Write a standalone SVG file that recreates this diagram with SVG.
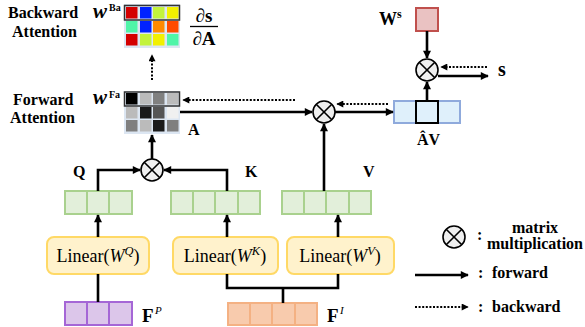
<svg xmlns="http://www.w3.org/2000/svg" width="585" height="327" viewBox="0 0 585 327">
<defs>
<style>
text{font-family:"Liberation Serif","Times New Roman",serif;fill:#000}
.b{font-weight:bold}
.lbl{font-weight:bold;font-size:16px}
.lin{font-size:18px}
.ln{fill:none;stroke:#000;stroke-width:2.6}
.dt{fill:none;stroke:#000;stroke-width:2;stroke-dasharray:2 1.6}
.gv{fill:#e2efda;stroke:#a9d18e;stroke-width:2}
.pv{fill:#dcc6ea;stroke:#a566d6;stroke-width:2}
.ov{fill:#f8cbad;stroke:#f4b183;stroke-width:2}
.bv{fill:#dff0fb;stroke:#8faadc;stroke-width:2}
.lb{fill:#fff2cc;stroke:#ffd966;stroke-width:2}
.op{fill:#efefef;stroke:#000;stroke-width:1.6}
.opx{stroke:#000;stroke-width:1.6}
</style>
<marker id="ah" viewBox="0 0 10 10" refX="9" refY="5" markerWidth="10" markerHeight="8" markerUnits="userSpaceOnUse" orient="auto"><path d="M0,0 L10,5 L0,10 z" fill="#000"/></marker>
<marker id="ad" viewBox="0 0 10 10" refX="9" refY="5" markerWidth="8" markerHeight="7" markerUnits="userSpaceOnUse" orient="auto"><path d="M0,0 L10,5 L0,10 z" fill="#000"/></marker>
<g id="opsym"><circle r="11" class="op"/><path d="M-7.8,-7.8 L7.8,7.8 M-7.8,7.8 L7.8,-7.8" class="opx"/></g>
</defs>

<g id="backward-attention">
<text x="8" y="18" class="lbl">Backward</text>
<text x="12" y="37" class="lbl">Attention</text>
<text x="93" y="18" class="b" font-style="italic" font-size="21">w</text>
<text x="109" y="11" class="b" font-size="10">Ba</text>
<rect x="124" y="4" width="56" height="44" fill="#dce6f2"/>
<rect x="126" y="7" width="11.5" height="11.5" fill="#d40000"/>
<rect x="140" y="7" width="11.5" height="11.5" fill="#0022ff"/>
<rect x="153" y="7" width="11.5" height="11.5" fill="#c3f33c"/>
<rect x="167" y="7" width="11.5" height="11.5" fill="#f2f000"/>
<rect x="126" y="21" width="11.5" height="11.5" fill="#4ff5a8"/>
<rect x="140" y="21" width="11.5" height="11.5" fill="#0022ff"/>
<rect x="153" y="21" width="11.5" height="11.5" fill="#ff8a00"/>
<rect x="167" y="21" width="11.5" height="11.5" fill="#ff4a00"/>
<rect x="126" y="34" width="11.5" height="11.5" fill="#d40000"/>
<rect x="140" y="34" width="11.5" height="11.5" fill="#c3f33c"/>
<rect x="153" y="34" width="11.5" height="11.5" fill="#f2f000"/>
<rect x="167" y="34" width="11.5" height="11.5" fill="#4ff5a8"/>
<rect x="124.5" y="5.5" width="55" height="14.5" fill="none" stroke="#333" stroke-width="1.5"/>
<text x="204" y="22" text-anchor="middle" class="b" font-size="19">∂s</text>
<line x1="190" y1="26.5" x2="218" y2="26.5" stroke="#000" stroke-width="1.3"/>
<text x="204" y="45" text-anchor="middle" class="b" font-size="19">∂A</text>
</g>

<g id="forward-attention">
<text x="13" y="105" class="lbl">Forward</text>
<text x="10" y="123" class="lbl">Attention</text>
<text x="93" y="104" class="b" font-style="italic" font-size="21">w</text>
<text x="109" y="98" class="b" font-size="10">Fa</text>
<rect x="124" y="91" width="56" height="43" fill="#dce6f2"/>
<rect x="126" y="93" width="11.5" height="11.5" fill="#000"/>
<rect x="140" y="93" width="11.5" height="11.5" fill="#bbb"/>
<rect x="153" y="93" width="11.5" height="11.5" fill="#808080"/>
<rect x="167" y="93" width="11.5" height="11.5" fill="#bbb"/>
<rect x="126" y="107" width="11.5" height="11.5" fill="#bbb"/>
<rect x="140" y="107" width="11.5" height="11.5" fill="#1a1a1a"/>
<rect x="153" y="107" width="11.5" height="11.5" fill="#555"/>
<rect x="167" y="107" width="11.5" height="11.5" fill="#f0f0f0"/>
<rect x="126" y="120" width="11.5" height="11.5" fill="#7f7f7f"/>
<rect x="140" y="120" width="11.5" height="11.5" fill="#bbb"/>
<rect x="153" y="120" width="11.5" height="11.5" fill="#1a1a1a"/>
<rect x="167" y="120" width="11.5" height="11.5" fill="#7f7f7f"/>
<rect x="124.5" y="92" width="55" height="14" fill="none" stroke="#333" stroke-width="1.5"/>
<text x="188" y="135" class="lbl">A</text>
</g>

<g id="op-qk"><use href="#opsym" x="152" y="170"/></g>
<g id="op-av"><use href="#opsym" x="324" y="112"/></g>
<g id="op-s"><use href="#opsym" x="427" y="70"/></g>

<g id="av-vector">
<rect x="394" y="101" width="22" height="22" class="bv"/>
<rect x="416" y="101" width="22" height="22" class="bv"/>
<rect x="438" y="101" width="22" height="22" class="bv"/>
<rect x="416" y="101" width="22" height="22" fill="none" stroke="#000" stroke-width="2"/>
<text x="417" y="145" class="lbl">ÂV</text>
</g>

<g id="ws">
<rect x="416" y="8" width="22" height="23" fill="#eac2c2" stroke="#c0504d" stroke-width="2"/>
<text x="379" y="25" class="b" font-size="18">W</text>
<text x="397" y="18" class="b" font-size="12">s</text>
</g>

<g id="s-label"><text x="498" y="76" class="b" font-size="20">s</text></g>

<g id="q-vector">
<rect x="65" y="191" width="22" height="23" class="gv"/>
<rect x="87" y="191" width="22" height="23" class="gv"/>
<rect x="109" y="191" width="23" height="23" class="gv"/>
<text x="73" y="177" class="lbl">Q</text>
</g>
<g id="k-vector">
<rect x="171" y="191" width="22" height="23" class="gv"/>
<rect x="193" y="191" width="22" height="23" class="gv"/>
<rect x="215" y="191" width="23" height="23" class="gv"/>
<rect x="238" y="191" width="22" height="23" class="gv"/>
<text x="245" y="177" class="lbl">K</text>
</g>
<g id="v-vector">
<rect x="282" y="191" width="22" height="23" class="gv"/>
<rect x="304" y="191" width="22" height="23" class="gv"/>
<rect x="326" y="191" width="23" height="23" class="gv"/>
<rect x="349" y="191" width="22" height="23" class="gv"/>
<text x="363" y="177" class="lbl">V</text>
</g>

<g id="linear-q">
<rect x="47" y="237" width="102" height="37" rx="7" class="lb"/>
<text x="98" y="262" text-anchor="middle" class="lin">Linear(<tspan font-style="italic">W</tspan><tspan font-style="italic" font-size="12.5" dy="-7">Q</tspan><tspan dy="7">)</tspan></text>
</g>
<g id="linear-k">
<rect x="173" y="237" width="105" height="37" rx="7" class="lb"/>
<text x="225" y="262" text-anchor="middle" class="lin">Linear(<tspan font-style="italic">W</tspan><tspan font-style="italic" font-size="12.5" dy="-7">K</tspan><tspan dy="7">)</tspan></text>
</g>
<g id="linear-v">
<rect x="287" y="237" width="107" height="37" rx="7" class="lb"/>
<text x="340" y="262" text-anchor="middle" class="lin">Linear(<tspan font-style="italic">W</tspan><tspan font-style="italic" font-size="12.5" dy="-7">V</tspan><tspan dy="7">)</tspan></text>
</g>

<g id="fp">
<rect x="65" y="302" width="22" height="23" class="pv"/>
<rect x="87" y="302" width="22" height="23" class="pv"/>
<rect x="109" y="302" width="23" height="23" class="pv"/>
<text x="142" y="322" class="b" font-size="19">F</text>
<text x="155" y="314" font-style="italic" font-size="11">P</text>
</g>
<g id="fi">
<rect x="228" y="303" width="22" height="22" class="ov"/>
<rect x="250" y="303" width="22" height="22" class="ov"/>
<rect x="272" y="303" width="23" height="22" class="ov"/>
<rect x="295" y="303" width="22" height="22" class="ov"/>
<text x="327" y="322" class="b" font-size="19">F</text>
<text x="340" y="314" font-style="italic" font-size="11">I</text>
</g>

<g id="connectors">
<path d="M98,302 V274" class="ln"/>
<path d="M98,237 V215" class="ln" marker-end="url(#ah)"/>
<path d="M98,191 V170 H140" class="ln" marker-end="url(#ah)"/>
<path d="M227,191 V170 H164" class="ln" marker-end="url(#ah)"/>
<path d="M152,159 V135" class="ln" marker-end="url(#ah)"/>
<path d="M283,303 V288 M227,274 V288 H338 V274" class="ln"/>
<path d="M227,237 V215" class="ln" marker-end="url(#ah)"/>
<path d="M338,237 V215" class="ln" marker-end="url(#ah)"/>
<path d="M324,191 V124" class="ln" marker-end="url(#ah)"/>
<path d="M180,112 H312" class="ln" marker-end="url(#ah)"/>
<path d="M335,112 H393" class="ln" marker-end="url(#ah)"/>
<path d="M388,104 H337" class="dt" marker-end="url(#ad)"/>
<path d="M295,100 H183" class="dt" marker-end="url(#ad)"/>
<path d="M427,100 V82" class="ln" marker-end="url(#ah)"/>
<path d="M427,31 V58" class="ln" marker-end="url(#ah)"/>
<path d="M487,67 H441" class="dt" marker-end="url(#ad)"/>
<path d="M438,76 H488" class="ln" marker-end="url(#ah)"/>
<path d="M152,80 V55" class="dt" marker-end="url(#ad)"/>
</g>

<g id="legend">
<use href="#opsym" x="454" y="237"/>
<text x="477" y="240" class="lbl">:</text>
<text x="535" y="233" text-anchor="middle" class="lbl">matrix</text>
<text x="487" y="249" class="lbl">multiplication</text>
<path d="M415,275 H468" class="ln" marker-end="url(#ah)"/>
<text x="478" y="278" class="lbl">:</text>
<text x="492" y="278" class="lbl">forward</text>
<path d="M415,307 H468" class="dt" marker-end="url(#ad)"/>
<text x="478" y="312" class="lbl">:</text>
<text x="492" y="312" class="lbl">backward</text>
</g>
</svg>
